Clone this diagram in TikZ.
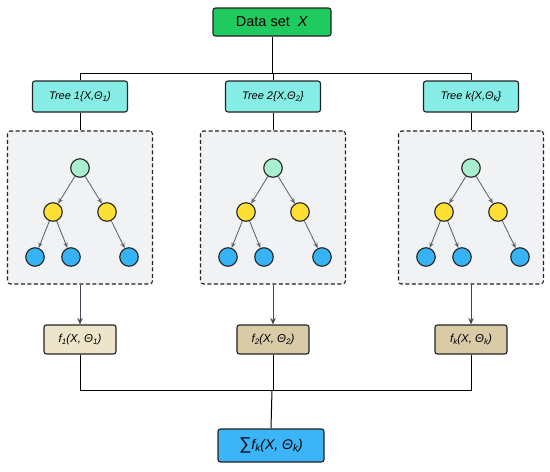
\documentclass[tikz,border=0pt]{standalone}
\usepackage{fontspec}
\setmainfont{Liberation Sans}
\usetikzlibrary{arrows.meta}
\definecolor{dsgreen}{HTML}{1FCB5E}
\definecolor{treecyan}{HTML}{86EDE6}
\definecolor{panelgray}{HTML}{F1F2F4}
\definecolor{rootgreen}{HTML}{A8F0CD}
\definecolor{leafyellow}{HTML}{FDE033}
\definecolor{leafblue}{HTML}{36B3F5}
\definecolor{fone}{HTML}{EEE4C9}
\definecolor{ftwo}{HTML}{D8CBA6}
\definecolor{sumblue}{HTML}{3BB5F8}
\definecolor{edgedark}{HTML}{222222}
\definecolor{flowgray}{HTML}{3F4754}
\definecolor{treearrow}{HTML}{5F6673}
\newcommand{\lowsub}[1]{\raisebox{-0.3ex}{\fontsize{8}{8}\selectfont #1}}
\newcommand{\bigsub}[1]{\raisebox{-0.3ex}{\fontsize{10}{10}\selectfont #1}}
\tikzset{
  box/.style={draw=edgedark, line width=1.1pt, rounded corners=2.5pt, inner sep=0pt},
  databox/.style={box, fill=dsgreen, minimum width=118pt, minimum height=28pt, font=\fontsize{14.5}{15}\selectfont},
  treebox/.style={box, fill=treecyan, minimum width=95pt, minimum height=31pt, font=\fontsize{11}{12}\selectfont\itshape},
  panel/.style={draw=edgedark, line width=1.1pt, dash pattern=on 4pt off 2.5pt, rounded corners=3pt, fill=panelgray, minimum width=145pt, minimum height=153pt, inner sep=0pt},
  fbox/.style={box, minimum width=72pt, minimum height=29pt, font=\fontsize{11.5}{12}\selectfont\itshape},
  sumbox/.style={box, fill=sumblue, minimum width=106pt, minimum height=33pt, font=\fontsize{14}{15}\selectfont},
  tn/.style={circle, draw=edgedark, line width=1.1pt, minimum size=18.5pt, inner sep=0pt},
  rootn/.style={tn, fill=rootgreen},
  midn/.style={tn, fill=leafyellow},
  leafn/.style={tn, fill=leafblue},
  tarrow/.style={draw=treearrow, line width=0.85pt, -{Stealth[length=5.5pt,width=4.5pt]}},
  flow/.style={draw=flowgray, line width=1pt, -{Stealth[length=6.5pt,width=5.5pt]}},
  wire/.style={draw=black, line width=1pt},
}
\begin{document}
\begin{tikzpicture}[x=1pt,y=-1pt]
\useasboundingbox[fill=white] (0,0) rectangle (550,472);
% top
\node[databox] (data) at (272,22) {Data set\; \textit{X}};
\coordinate (hub) at (272,73);
\coordinate (bhub) at (272,390);
\foreach \i/\cx/\lab/\fcol/\flab in {
  1/80/{Tree 1\{X,$\!$\,Θ\lowsub{1})}/fone/{f\lowsub{1}(X, Θ\lowsub{1})},
  2/273/{Tree 2\{X,$\!$\,Θ\lowsub{2}\}}/ftwo/{f\lowsub{2}(X, Θ\lowsub{2})},
  3/471/{Tree k\{X,$\!$\,Θ\lowsub{k}\}}/ftwo/{f\lowsub{k}(X, Θ\lowsub{k})}} {
  \node[treebox] (tree\i) at (\cx,96.5) {\lab};
  \node[panel] (panel\i) at (\cx,207.5) {};
  \node[rootn] (r\i) at (\cx,168) {};
  \node[midn] (a\i) at (\cx-27,212) {};
  \node[midn] (b\i) at (\cx+27,212) {};
  \node[leafn] (c\i) at (\cx-45,257) {};
  \node[leafn] (d\i) at (\cx-9,257) {};
  \node[leafn] (e\i) at (\cx+49,257) {};
  \draw[tarrow] (r\i) -- (a\i);
  \draw[tarrow] (r\i) -- (b\i);
  \draw[tarrow] (a\i) -- (c\i);
  \draw[tarrow] (a\i) -- (d\i);
  \draw[tarrow] (b\i) -- (e\i);
  \node[fbox, fill=\fcol] (f\i) at (\cx,339.5) {\flab};
  \draw[wire] (hub) -| (tree\i.north);
  \draw[wire] (tree\i.south) -- (panel\i.north);
  \draw[flow] (panel\i.south) -- (f\i.north);
}
\draw[wire] (data.south) -- (hub);
\node[sumbox] (sum) at (271,445.5) {{\fontsize{17}{17}\selectfont ∑}\textit{f\bigsub{k}(X, Θ\bigsub{k})}};
\draw[wire] (f1.south) |- (bhub);
\draw[wire] (f3.south) |- (bhub);
\draw[wire] (f2.south) -- (f2.south |- bhub);
\draw[wire] (bhub) -- (sum.north);
\end{tikzpicture}
\end{document}
